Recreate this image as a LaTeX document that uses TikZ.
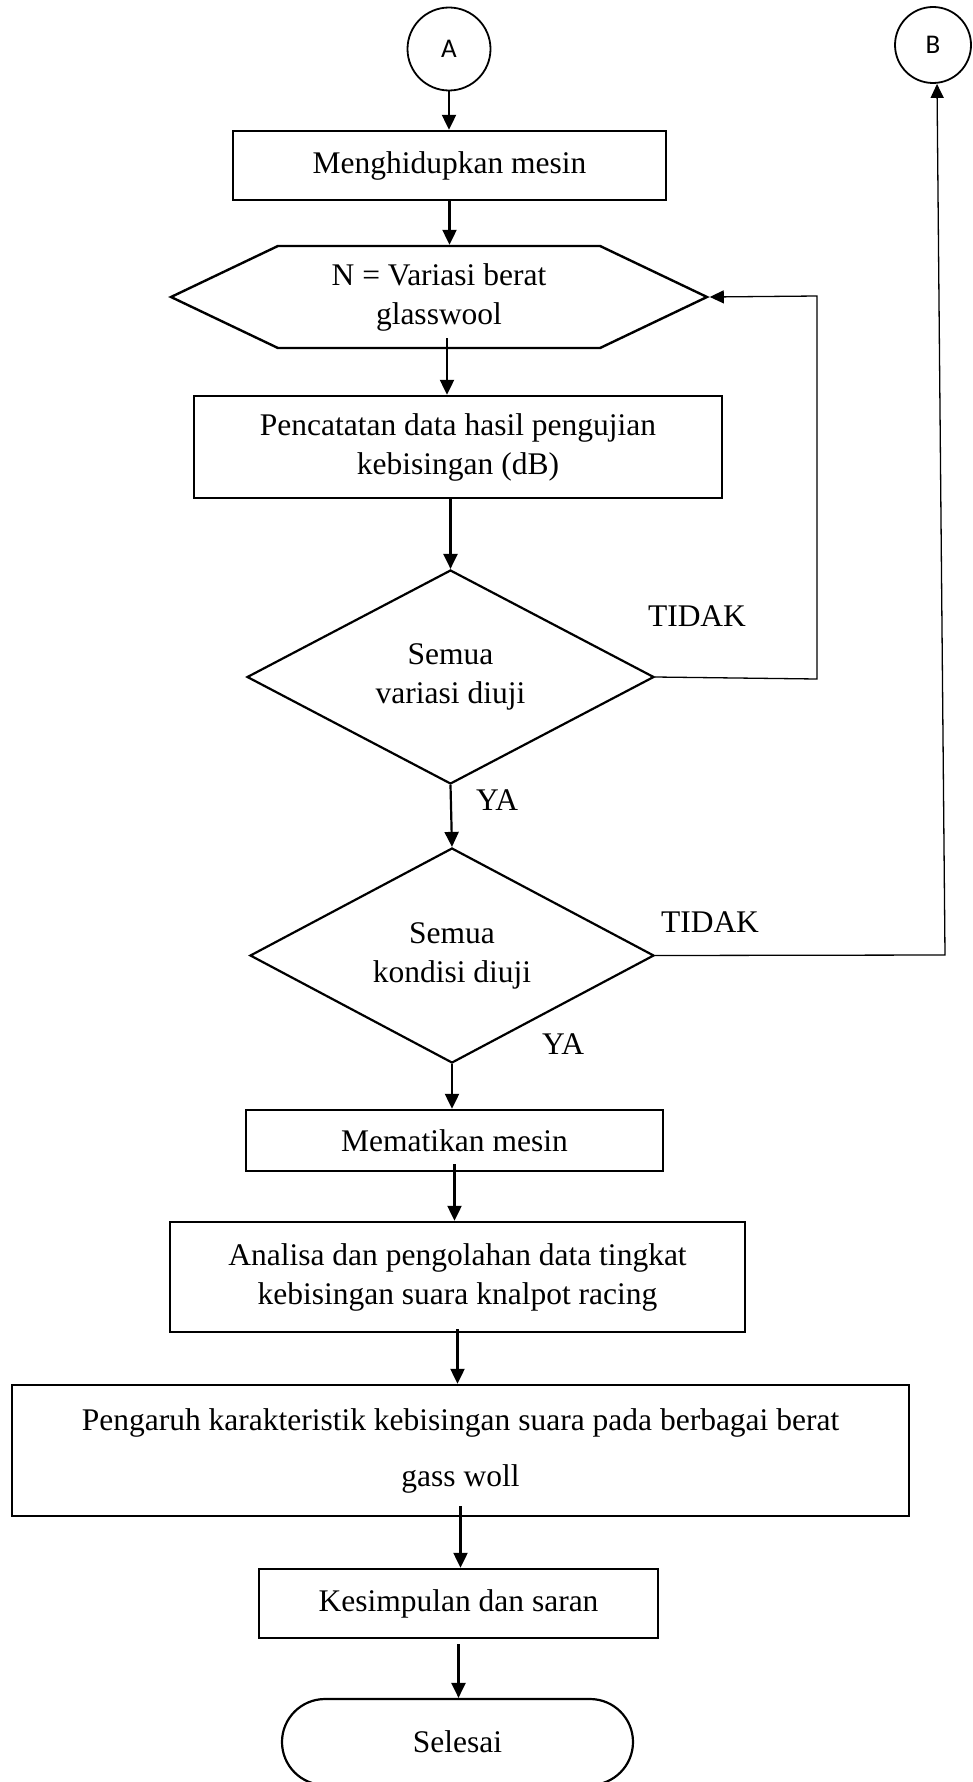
\documentclass[tikz,border=0pt]{standalone}
\usepackage{fontspec}
\setmainfont{Liberation Serif}
\newfontfamily\labelsans{Carlito}
\usetikzlibrary{arrows.meta,shapes.geometric,shapes.symbols}
\begin{document}
\begin{tikzpicture}[x=1pt,y=-1pt,
  every node/.style={font=\fontsize{31.5pt}{39pt}\selectfont, inner sep=0pt},
  proc/.style={draw, line width=2.4pt, rectangle, align=center},
  conn/.style={draw, line width=1.8pt, circle,
    font=\labelsans\fontsize{27pt}{32pt}\selectfont},
  decide/.style={draw, line width=2.2pt, diamond, shape aspect=1.9, align=center},
  prep/.style={draw, line width=2.4pt, signal, signal to=west and east,
    signal pointer angle=51, align=center},
  term/.style={draw, line width=2.2pt, rectangle, rounded corners=43pt, align=center},
  arr/.style={line width=2.2pt, -{Triangle[length=15pt,width=14pt]}},
  looparr/.style={line width=1.3pt, -{Triangle[length=14pt,width=13pt]}}
]
\useasboundingbox (0,0) rectangle (973,1782);

% connectors to other pages
\node[conn, minimum size=83pt] (A) at (449,49) {A};
\node[conn, minimum size=76pt] (B) at (933,45) {B};

% main flow
\node[proc, minimum width=433pt, minimum height=69pt] (box1) at (449.5,165.5) {Menghidupkan mesin};
\node[prep, minimum width=536pt, minimum height=102pt] (hex) at (439,297) {N = Variasi berat\\glasswool};
\node[proc, minimum width=528pt, minimum height=102pt] (box2) at (458,447) {Pencatatan data hasil pengujian\\kebisingan (dB)};
\node[decide, minimum width=407pt, minimum height=214pt] (d1) at (450.5,677) {Semua\\variasi diuji};
\node[decide, minimum width=404pt, minimum height=215pt] (d2) at (452,955.5) {Semua\\kondisi diuji};
\node[proc, minimum width=417pt, minimum height=61pt] (box3) at (454.5,1140.5) {Mematikan mesin};
\node[proc, minimum width=575pt, minimum height=110pt] (box4) at (457.5,1277) {Analisa dan pengolahan data tingkat\\kebisingan suara knalpot racing};
\node[proc, minimum width=897pt, minimum height=131pt] (box5) at (460.5,1450.5) {Pengaruh karakteristik kebisingan suara pada berbagai berat\\[17pt]gass woll};
\node[proc, minimum width=399pt, minimum height=69pt] (box6) at (458.5,1603.5) {Kesimpulan dan saran};
\node[term, minimum width=351pt, minimum height=86pt] (stop) at (457.5,1742) {Selesai};

% branch labels
\node (t1) at (697,616) {TIDAK};
\node (y1) at (497,800) {YA};
\node (t2) at (710,922) {TIDAK};
\node (y2) at (563,1044) {YA};

% arrows down the main flow
\draw[arr] (A.south) -- (A.south |- box1.north);
\draw[arr] (box1.south) -- (box1.south |- hex.north);
\coordinate (h1) at ([shift={(8pt,11pt)}]hex.south);
\draw[arr] (h1) -- (h1 |- box2.north);
\draw[arr] (box2.south -| d1.north) -- (d1.north);
\draw[arr] (d1.south) -- (d2.north);
\draw[arr] (d2.south) -- (d2.south |- box3.north);
\coordinate (s3) at ([yshift=8pt]box3.south);
\draw[arr] (s3) -- (s3 |- box4.north);
\coordinate (s4) at ([yshift=4pt]box4.south);
\draw[arr] (s4) -- (s4 |- box5.north);
\coordinate (s5) at ([yshift=11pt]box5.south);
\draw[arr] (s5) -- (s5 |- box6.north);
\coordinate (s6) at ([yshift=-5pt]box6.south);
\draw[arr] (s6) -- (s6 |- stop.north);

% feedback loops
\coordinate (r1) at (817,679);
\coordinate (r2) at (817,296);
\draw[looparr] (d1.east) -- (r1) -- (r2) -- (hex.east);
\coordinate (r3) at (945,955);
\draw[looparr] (d2.east) -- (r3) -- ([xshift=4pt]B.south);
\end{tikzpicture}
\end{document}
